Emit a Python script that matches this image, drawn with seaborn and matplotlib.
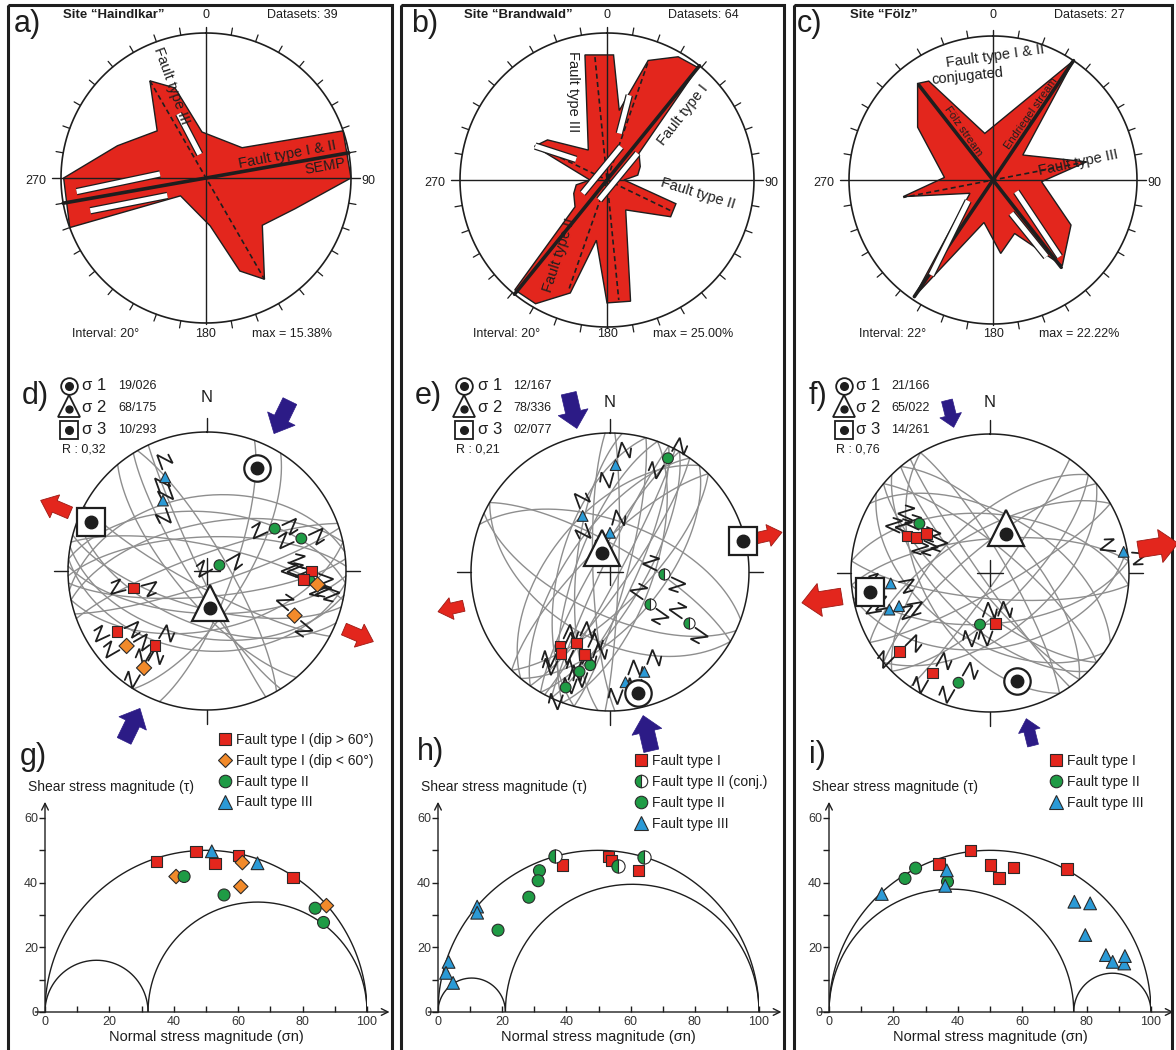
import numpy as np
import pandas as pd
import matplotlib
matplotlib.use("Agg")
import matplotlib.pyplot as plt
import seaborn as sns
from matplotlib.patches import Polygon, Rectangle, FancyArrow
from matplotlib.lines import Line2D
import matplotlib.patheffects as pe

sns.set_theme(style="white")
plt.rcParams["font.family"] = ["Liberation Sans", "DejaVu Sans"]

# ======================= DATA =======================
# --- rose diagrams: outline vertices (azimuth deg, frequency %) ---
rose_a_az = [355, 50, 71, 90, 109, 130, 150, 160, 175, 235, 250, 270, 290, 314, 330, 341]
rose_a_pct = [4.9, 5.0, 15.38, 15.38, 10.0, 7.8, 12.4, 10.5, 5.1, 3.3, 15.38, 15.1, 10.0, 7.2, 11.9, 10.1]
rose_b_az = [350, 3, 10, 19, 30, 39, 50, 68, 81, 90, 109, 120, 148, 169, 180, 190, 198, 210, 220,
             230, 248, 261, 270, 295, 304, 328]
rose_b_pct = [21.6, 21.3, 12.0, 21.5, 24.2, 24.6, 7.1, 6.1, 5.3, 2.9, 12.4, 12.5, 6.0, 21.0, 20.9,
              10.4, 20.2, 24.3, 24.4, 7.1, 6.1, 5.3, 2.9, 13.6, 12.2, 6.0]
rose_c_az = [350, 34, 50, 79, 92, 120, 141, 158, 174, 192, 214, 240, 259.5, 273, 305, 322, 327]
rose_c_pct = [7.3, 22.22, 6.0, 14.7, 7.5, 13.9, 17.0, 8.9, 11.4, 6.7, 21.7, 4.1, 14.1, 7.5, 14.2, 18.9, 18.2]
rose_max = [15.38, 25.00, 22.22]
rose_interval = [20, 20, 22]
rose_datasets = [39, 64, 27]
site_names = ["Haindlkar", "Brandwald", "Fölz"]

# main trends (azimuth, radius on that side %, radius on opposite side %)
a_thick = [(80, 15.38, 15.38)]
a_dash = [(330, 11.9, 12.4)]
b_thick = [(39, 25.0, 25.0)]
b_dash = [(354.4, 21.0, 20.5), (19.2, 21.0, 19.6), (295.7, 13.0, 12.2)]
c_thick = [(34, 22.22, 21.7), (322, 18.6, 17.1)]
c_dash = [(79, 14.7, 14.1)]
# white shear-sense bars (az1, r1, az2, r2)
a_bars = [(264, 13.8, 275, 4.9), (254.2, 12.75, 245.6, 4.5), (336.9, 7.4, 345.2, 2.6)]
b_bars = [(241.3, 4.71, 22.8, 6.14), (201, 3.63, 49, 6.89), (14.7, 14.9, 14.8, 8.19), (295.3, 13.5, 303.7, 6.32)]
c_bars = [(116.6, 4.03, 139, 15.68), (151.2, 5.87, 145.2, 14.41), (230, 5.0, 213, 17.5)]

# --- stereonets: fault planes (strike, dip) ---
d_strike = [268, 275, 282, 258, 92, 100, 85, 95, 78, 105, 72, 250, 262, 112, 148, 155, 330, 140, 20, 32, 118]
d_dip = [70, 55, 75, 62, 65, 50, 75, 42, 55, 68, 82, 80, 45, 58, 80, 86, 78, 72, 75, 68, 80]
e_strike = [25, 30, 35, 20, 200, 210, 215, 205, 40, 220, 28, 15, 2, 178, 185, 290, 300, 115, 120, 45, 225, 195]
e_dip = [75, 70, 80, 65, 70, 80, 65, 85, 60, 55, 85, 80, 85, 80, 70, 60, 75, 65, 50, 70, 75, 60]
f_strike = [130, 140, 135, 310, 320, 145, 45, 50, 230, 225, 60, 85, 95, 265, 275, 80, 150, 330, 35, 240, 125, 300]
f_dip = [70, 80, 60, 75, 65, 85, 70, 55, 75, 60, 80, 60, 75, 70, 55, 45, 50, 80, 85, 65, 50, 55]

# slickenlines: type, trend, plunge, shear-symbol azimuth
d_type = ["III", "III", "II", "II", "II", "II", "I", "I", "I", "I", "I", "Il", "Il", "Il", "Il"]
d_trend = [336, 328, 58, 71, 65, 95, 257, 90, 95, 236, 215, 97, 117, 227, 213]
d_plunge = [27, 40, 42, 29, 82, 27, 45, 26, 31, 23, 35, 21, 30, 22, 18]
d_sym = [340, 340, 65, 65, 60, 110, 75, 110, 110, 65, 30, 110, 130, 60, 30]
e_type = ["III"] * 5 + ["II"] * 4 + ["IIc"] * 3 + ["I"] * 4
e_trend = [3, 334, 0, 161, 172, 27, 192, 197, 201, 92, 129, 123, 214, 205, 211, 197]
e_plunge = [24, 53, 67, 25, 21, 9, 32, 26, 12, 58, 60, 33, 36, 43, 32, 38]
e_sym = [15, 340, 15, 20, 20, 30, 20, 20, 20, 115, 125, 125, 25, 25, 25, 25]
f_type = ["II", "I", "I", "I", "III", "III", "III", "III", "II", "I", "I", "I", "II"]
f_trend = [305, 294, 296, 302, 81, 264, 250, 250, 191, 174, 229, 210, 196]
f_plunge = [38, 35, 41, 45, 3, 29, 24, 31, 59, 60, 15, 18, 19]
f_sym = [115, 115, 115, 115, 95, 80, 80, 80, 20, 20, 45, 30, 30]

# principal stress axes (plunge, trend) for sigma1..3 and stress ratio R
d_sig = [(19, 26), (68, 175), (10, 293)]
e_sig = [(12, 167), (78, 336), (2, 77)]
f_sig = [(21, 166), (65, 22), (14, 261)]
stress_R = [0.32, 0.21, 0.76]

# --- Mohr diagrams: normal stress, shear stress ---
g_I_x = [34.7, 46.9, 52.8, 60.1, 77.0]; g_I_y = [46.5, 49.7, 46.0, 48.3, 41.7]
g_Il_x = [40.7, 61.3, 60.8, 87.4]; g_Il_y = [41.9, 46.2, 38.8, 32.9]
g_II_x = [43.2, 55.6, 83.9, 86.5]; g_II_y = [41.9, 36.2, 32.1, 27.7]
g_III_x = [51.8, 66.0]; g_III_y = [49.7, 46.0]
h_I_x = [38.7, 53.2, 54.1, 62.4]; h_I_y = [45.5, 48.1, 46.9, 43.8]
h_IIc_x = [36.6, 56.1, 64.1]; h_IIc_y = [48.1, 45.3, 47.9]
h_II_x = [31.6, 31.2, 28.3, 18.7]; h_II_y = [43.7, 40.6, 35.5, 25.3]
h_III_x = [12.2, 12.2, 3.3, 2.5, 4.7]; h_III_y = [32.6, 30.7, 15.5, 12.1, 9.0]
i_I_x = [34.2, 44.0, 50.1, 52.8, 57.3, 73.9]; i_I_y = [45.8, 50.0, 45.5, 41.4, 44.8, 44.2]
i_II_x = [23.6, 26.9, 36.8]; i_II_y = [41.3, 44.5, 40.3]
i_III_x = [16.4, 36.6, 36.1, 76.2, 81.1, 79.6, 86.0, 88.1, 91.7, 91.9]
i_III_y = [36.5, 43.8, 39.0, 34.1, 33.6, 23.8, 17.6, 15.5, 15.0, 17.3]

# ======================= STYLE =======================
RED = "#e3261d"; ORANGE = "#f28a2a"; GREEN = "#1f9b45"; BLUE = "#2b9ad6"
NAVY = "#2c1b86"; GRAY = "#8e8e8e"; INK = "#1e1e1e"; EDGE = "#2a2a2a"
PAL = {"I": RED, "Il": ORANGE, "II": GREEN, "III": BLUE, "IIc": GREEN}
MK = {"I": "s", "Il": "D", "II": "o", "III": "^", "IIc": "o"}
SZ = {"I": 66, "Il": 54, "II": 74, "III": 84, "IIc": 74}

W, H = 1176, 1050
fig = plt.figure(figsize=(W / 100, H / 100), dpi=100)
ov = fig.add_axes([0, 0, 1, 1])
ov.set_xlim(0, W); ov.set_ylim(H, 0); ov.axis("off")


def add_ax(cx, cy, half, L):
    ax = fig.add_axes([(cx - half) / W, (H - cy - half) / H, 2 * half / W, 2 * half / H])
    ax.set_xlim(-L, L); ax.set_ylim(-L, L)
    ax.axis("off")
    return ax


def xy(az, r):
    a = np.radians(az)
    return r * np.sin(a), r * np.cos(a)


def txt(x, y, s, size=9, ha="left", va="center", weight="normal", **kw):
    ov.text(x, y, s, fontsize=size, ha=ha, va=va, fontweight=weight, color=INK, **kw)


# frames
for x0, x1 in [(8, 392), (401, 784), (794, 1172)]:
    ov.add_patch(Rectangle((x0, 5), x1 - x0, 1070, fill=False, lw=2.2, ec=INK))

# ======================= ROSES =======================
ROSE_GEOM = [(206, 178, 145), (607, 180, 147), (993, 180, 144)]
rose_sets = [
    (rose_a_az, rose_a_pct, a_thick, a_dash, a_bars,
     [("Fault type III", -3.7, 9.8, -70, 10.5), ("Fault type I & II", 8.66, 2.5, 11, 10.5),
      ("SEMP", 12.66, 1.2, 10, 10.5)]),
    (rose_b_az, rose_b_pct, b_thick, b_dash, b_bars,
     [("Fault type III", -5.83, 15.0, -90, 10.5), ("Fault type I", 12.84, 11.03, 52, 10.5),
      ("Fault type II", 15.38, -2.26, -17, 10.5), ("Fault type II", -8.09, -12.73, 72, 10.5)]),
    (rose_c_az, rose_c_pct, c_thick, c_dash, c_bars,
     [("Fault type I & II", 0.36, 19.1, 8, 10.5), ("conjugated", -3.86, 16.05, 6, 10.5),
      ("Fölz stream", -4.63, 7.46, -55, 8), ("Endriegel stream", 5.9, 10.3, 55, 8),
      ("Fault type III", 13.2, 2.67, 12, 10.5)]),
]
letters_top = ["a)", "b)", "c)"]
for k, ((cx, cy, rpx), (az, pct, thick, dash, bars, labels)) in enumerate(zip(ROSE_GEOM, rose_sets)):
    rmax = rose_max[k]
    ax = add_ax(cx, cy, 1.25 * rpx, 1.25 * rmax)
    px, py = xy(np.array(az, float), np.array(pct, float))
    ax.add_patch(Polygon(np.column_stack([px, py]), closed=True, fc=RED, ec=INK, lw=1.0, zorder=2))
    th = np.linspace(0, 2 * np.pi, 361)
    ax.plot(rmax * np.sin(th), rmax * np.cos(th), color=INK, lw=1.2, zorder=3)
    for a in range(10, 360, 10):
        if a % 90:
            x0, y0 = xy(a, rmax); x1, y1 = xy(a, rmax * 1.05)
            ax.plot([x0, x1], [y0, y1], color=INK, lw=0.9, zorder=3)
    ax.plot([0, 0], [-1.01 * rmax, 1.04 * rmax], color=INK, lw=1.0, zorder=5)
    ax.plot([-1.06 * rmax, 1.06 * rmax], [0, 0], color=INK, lw=1.0, zorder=5)
    for a, r1, r2 in thick:
        x0, y0 = xy(a, r1); x1, y1 = xy(a + 180, r2)
        ax.plot([x0, x1], [y0, y1], color=INK, lw=2.6, zorder=6)
    for a, r1, r2 in dash:
        x0, y0 = xy(a, r1); x1, y1 = xy(a + 180, r2)
        ax.plot([x0, x1], [y0, y1], color=INK, lw=1.2, ls=(0, (3, 2)), zorder=6)
    for a1, r1, a2, r2 in bars:
        x0, y0 = xy(a1, r1); x1, y1 = xy(a2, r2)
        ax.plot([x0, x1], [y0, y1], color="white", lw=3.6, solid_capstyle="butt", zorder=7,
                path_effects=[pe.Stroke(linewidth=5.4, foreground=INK), pe.Normal()])
    for s, lx, ly, rot, fs in labels:
        ax.text(lx, ly, s, rotation=rot, ha="center", va="center", fontsize=fs, color=INK,
                rotation_mode="anchor", zorder=8)
    # annotations
    txt(cx - 196 + (4 if k == 0 else 0), 24, letters_top[k], size=22)
    txt(cx - 143, 15, "Site \u201c%s\u201d" % site_names[k], size=9.5, weight="bold")
    txt(cx, 15, "0", ha="center")
    txt(cx + 61, 15, "Datasets: %d" % rose_datasets[k])
    txt(cx - rpx - 25, cy + 3, "270", ha="center")
    txt(cx + rpx + 17, cy + 3, "90", ha="center")
    txt(cx - 134, 334, "Interval: %d\u00b0" % rose_interval[k])
    txt(cx, 334, "180", ha="center")
    txt(cx + 46, 334, "max = %.2f%%" % rmax)

# ======================= STEREONETS =======================


def proj(trend, plunge):
    trend = np.asarray(trend, float); plunge = np.asarray(plunge, float)
    r = np.sqrt(2) * np.sin(np.radians(90 - plunge) / 2)
    return r * np.sin(np.radians(trend)), r * np.cos(np.radians(trend))


def great_circle(strike, dip):
    s = np.radians(strike); d = np.radians(dip); dd = s + np.pi / 2
    t = np.linspace(0, np.pi, 181)
    sv = np.array([np.cos(s), np.sin(s), 0.0])
    dv = np.array([np.cos(d) * np.cos(dd), np.cos(d) * np.sin(dd), np.sin(d)])
    v = np.outer(np.cos(t), sv) + np.outer(np.sin(t), dv)
    n, e, dn = v.T
    plunge = np.degrees(np.arcsin(np.clip(dn, -1, 1)))
    trend = np.degrees(np.arctan2(e, n))
    return proj(trend, plunge)


def shear_symbol(ax, x, y, az, L=0.17):
    a = np.radians(az)
    t = np.array([np.sin(a), np.cos(a)]); n = np.array([t[1], -t[0]])
    p = np.array([x, y])
    for sg in (1, -1):
        pts = np.array([p + sg * 0.06 * t, p + sg * L * t, p + sg * (0.45 * L * t + 0.5 * L * n),
                        p + sg * (0.85 * L * t + 0.45 * L * n)])
        ax.plot(pts[:, 0], pts[:, 1], color=INK, lw=1.3, zorder=3, solid_joinstyle="miter")


STEREO_GEOM = [(207, 571, 139), (610, 572, 139), (990, 573, 139)]
stereo_sets = [
    (d_strike, d_dip, d_type, d_trend, d_plunge, d_sym, d_sig,
     dict(b=(0.11, 0.22, 0.12, 1.10, 1.36), r=(0.09, 0.18, 0.11, 1.07, 1.30))),
    (e_strike, e_dip, e_type, e_trend, e_plunge, e_sym, e_sig,
     dict(b=(0.11, 0.22, 0.12, 1.06, 1.32), r=(0.08, 0.16, 0.10, 1.08, 1.27))),
    (f_strike, f_dip, f_type, f_trend, f_plunge, f_sym, f_sig,
     dict(b=(0.08, 0.16, 0.09, 1.08, 1.28), r=(0.12, 0.24, 0.13, 1.08, 1.37))),
]
letters_mid = ["d)", "e)", "f)"]
LEG_X = [(22, 69, 82, 118, 62), (415, 464, 478, 513, 456), (809, 844, 856, 891, 836)]
N_Y = [398, 403, 403]
for k, ((cx, cy, rpx), (stk, dp, typ, trd, plg, sym, sig, arr)) in enumerate(zip(STEREO_GEOM, stereo_sets)):
    ax = add_ax(cx, cy, 1.45 * rpx, 1.45)
    for s, d in zip(stk, dp):
        gx, gy = great_circle(s, d)
        ax.plot(gx, gy, color=GRAY, lw=1.0, zorder=1)
    th = np.linspace(0, 2 * np.pi, 361)
    ax.plot(np.sin(th), np.cos(th), color=INK, lw=1.1, zorder=2)
    for a in (0, 90, 180, 270):
        x0, y0 = xy(a, 1.0); x1, y1 = xy(a, 1.1)
        ax.plot([x0, x1], [y0, y1], color=INK, lw=1.0, zorder=2)
    ax.plot([-0.09, 0.09], [0, 0], color=INK, lw=1.0, zorder=2)
    ax.plot([0, 0], [-0.09, 0.09], color=INK, lw=1.0, zorder=2)
    mx, my = proj(trd, plg)
    for x, y, a in zip(mx, my, sym):
        shear_symbol(ax, x, y, a)
    df = pd.DataFrame({"x": mx, "y": my, "type": typ})
    full = df[df["type"] != "IIc"]
    sns.scatterplot(data=full, x="x", y="y", hue="type", style="type", palette=PAL, markers=MK,
                    s=60, edgecolor=EDGE, linewidth=0.8, legend=False, ax=ax, zorder=5)
    half = df[df["type"] == "IIc"]
    if len(half):
        ax.plot(half["x"], half["y"], ls="", marker="o", ms=8, mfc=GREEN, mfcalt="white",
                fillstyle="left", mec=EDGE, mew=0.8, zorder=5)
    ax.set_xlabel(""); ax.set_ylabel(""); ax.axis("off")
    # principal stress axes
    s1 = proj(sig[0][1], sig[0][0]); s2 = proj(sig[1][1], sig[1][0]); s3 = proj(sig[2][1], sig[2][0])
    ax.plot(*s1, marker="o", ms=19, mfc="white", mec=INK, mew=1.6, zorder=6)
    ax.plot(*s1, marker="o", ms=9, color=INK, zorder=7)
    ax.plot(s2[0], s2[1] + 0.04, marker="^", ms=26, mfc="white", mec=INK, mew=1.6, zorder=6)
    ax.plot(*s2, marker="o", ms=9, color=INK, zorder=7)
    ax.plot(*s3, marker="s", ms=20, mfc="white", mec=INK, mew=1.6, zorder=6)
    ax.plot(*s3, marker="o", ms=9, color=INK, zorder=7)
    # compression / extension arrows
    w, hw, hl, r_in, r_out = arr["b"]
    for a in (sig[0][1], sig[0][1] + 180):
        x0, y0 = xy(a, r_out); x1, y1 = xy(a, r_in)
        ax.add_patch(FancyArrow(x0, y0, x1 - x0, y1 - y0, width=w, head_width=hw, head_length=hl,
                                length_includes_head=True, fc=NAVY, ec=NAVY, lw=0.5, zorder=4))
    w, hw, hl, r_in, r_out = arr["r"]
    for a in (sig[2][1], sig[2][1] + 180):
        x0, y0 = xy(a, r_in); x1, y1 = xy(a, r_out)
        ax.add_patch(FancyArrow(x0, y0, x1 - x0, y1 - y0, width=w, head_width=hw, head_length=hl,
                                length_includes_head=True, fc=RED, ec="#9c1a14", lw=0.6, zorder=4))
    ax.text(0, (cy - N_Y[k]) / rpx, "N", ha="center", va="center", fontsize=12, color=INK)
    # legend of stress axes
    xl, xs, xsg, xv, xr = LEG_X[k]
    txt(xl, 396, letters_mid[k], size=22)
    rows = [386, 408, 430]
    ov.plot(xs, rows[0], "o", ms=12, mfc="white", mec=INK, mew=1.3)
    ov.plot(xs, rows[0], "o", ms=5.5, color=INK)
    ov.plot(xs, rows[1] - 2, "^", ms=16, mfc="white", mec=INK, mew=1.3)
    ov.plot(xs, rows[1] + 1, "o", ms=5, color=INK)
    ov.plot(xs, rows[2], "s", ms=13, mfc="white", mec=INK, mew=1.3)
    ov.plot(xs, rows[2], "o", ms=5.5, color=INK)
    for j in range(3):
        txt(xsg, rows[j], "\u03c3 %d" % (j + 1), size=12)
        txt(xv, rows[j], "%02d/%03d" % sig[j], size=9)
    txt(xr, 450, "R : %s" % ("%.2f" % stress_R[k]).replace(".", ","), size=9)

# ======================= MOHR DIAGRAMS =======================
Y0, Y60 = 1012, 818
MOHR_X = [(45, 367), (438, 759), (829, 1151)]
mohr_sets = [
    [("I", g_I_x, g_I_y), ("Il", g_Il_x, g_Il_y), ("II", g_II_x, g_II_y), ("III", g_III_x, g_III_y)],
    [("I", h_I_x, h_I_y), ("IIc", h_IIc_x, h_IIc_y), ("II", h_II_x, h_II_y), ("III", h_III_x, h_III_y)],
    [("I", i_I_x, i_I_y), ("II", i_II_x, i_II_y), ("III", i_III_x, i_III_y)],
]
LABELS = {"I": "Fault type I", "Il": "Fault type I (dip < 60\u00b0)", "II": "Fault type II",
          "III": "Fault type III", "IIc": "Fault type II (conj.)"}
leg_anchor = [(0.537, 1.44), (0.61, 1.33), (0.683, 1.33)]
letters_bot = [("g)", 20, 757), ("h)", 417, 752), ("i)", 809, 755)]
for k, ((x0p, x1p), groups) in enumerate(zip(MOHR_X, mohr_sets)):
    ax = fig.add_axes([x0p / W, (H - Y0) / H, (x1p - x0p) / W, (Y0 - Y60) / H])
    ax.set_xlim(0, 100); ax.set_ylim(0, 60)
    ax.patch.set_visible(False)
    for sp in ax.spines.values():
        sp.set_visible(False)
    ax.annotate("", xy=(107, 0), xytext=(-3, 0), annotation_clip=False,
                arrowprops=dict(arrowstyle="->", color=INK, lw=1.0, shrinkA=0, shrinkB=0))
    ax.annotate("", xy=(0, 65), xytext=(0, 0), annotation_clip=False,
                arrowprops=dict(arrowstyle="->", color=INK, lw=1.0, shrinkA=0, shrinkB=0))
    ax.set_xticks(range(0, 101, 20)); ax.set_xticks(range(10, 100, 20), minor=True)
    ax.set_yticks(range(0, 61, 20)); ax.set_yticks(range(10, 60, 20), minor=True)
    ax.tick_params(axis="x", which="both", bottom=True, direction="in", length=4, width=1,
                   color=INK, labelsize=9, labelcolor="#333333", pad=3)
    ax.tick_params(axis="y", which="both", left=True, direction="out", length=4, width=1,
                   color=INK, labelsize=9, labelcolor="#333333", pad=1)
    # Mohr circles from principal stresses (sigma3 = 0, sigma1 = 100, sigma2 = R*100)
    s3, s1 = 0.0, 100.0
    s2 = s3 + stress_R[k] * (s1 - s3)
    th = np.linspace(0, np.pi, 200)
    for a, b in [(s3, s1), (s3, s2), (s2, s1)]:
        c, r = (a + b) / 2, (b - a) / 2
        ax.plot(c + r * np.cos(th), r * np.sin(th), color=INK, lw=1.0, zorder=2)
    rows = []
    for t, xs_, ys_ in groups:
        rows += [(x, y, t) for x, y in zip(xs_, ys_)]
    df = pd.DataFrame(rows, columns=["sn", "tau", "type"])
    full = df[df["type"] != "IIc"]
    sns.scatterplot(data=full, x="sn", y="tau", hue="type", style="type", size="type", sizes=SZ,
                    palette=PAL, markers=MK, edgecolor=EDGE, linewidth=0.8, legend=False, ax=ax,
                    zorder=4, clip_on=False)
    half = df[df["type"] == "IIc"]
    if len(half):
        ax.plot(half["sn"], half["tau"], ls="", marker="o", ms=9.5, mfc=GREEN, mfcalt="white",
                fillstyle="left", mec=EDGE, mew=0.8, zorder=4)
    ax.set_xlabel("Normal stress magnitude (\u03c3n)", fontsize=10.5, color=INK, labelpad=1)
    ax.set_ylabel("")
    ax.text(-5.3, 69.6, "Shear stress magnitude (\u03c4)", fontsize=10, color=INK, ha="left",
            va="center", clip_on=False)
    handles = []
    for t, _, _ in groups:
        lab = LABELS[t]
        if k == 0 and t == "I":
            lab = "Fault type I (dip > 60\u00b0)"
        kw = dict(fillstyle="left", markerfacecoloralt="white") if t == "IIc" else {}
        ms = {"I": 8, "Il": 7, "II": 9, "III": 9.5, "IIc": 9}[t]
        handles.append(Line2D([], [], ls="", marker=MK[t], ms=ms, mfc=PAL[t], mec=EDGE, mew=0.8,
                              label=lab, **kw))
    ax.legend(handles=handles, loc="upper left", bbox_to_anchor=leg_anchor[k], frameon=False,
              fontsize=10, handletextpad=0.3, labelspacing=0.5, borderaxespad=0, borderpad=0,
              handlelength=1.0, labelcolor=INK)
    L, lx, ly = letters_bot[k]
    txt(lx, ly, L, size=22)

fig.savefig("out.png", dpi=100)
